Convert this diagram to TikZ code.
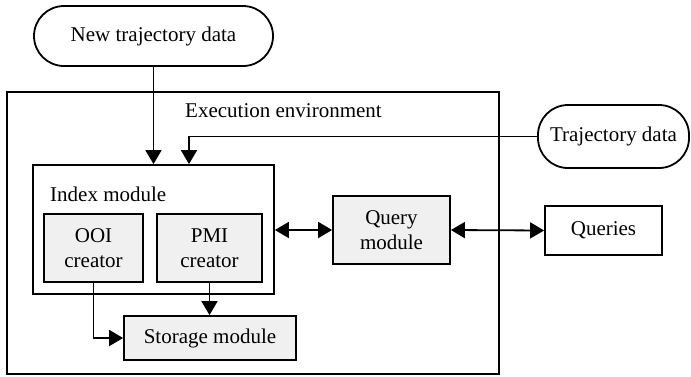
\documentclass[tikz,border=0pt]{standalone}
\usepackage{fontspec}
\setmainfont{Liberation Serif}
\usetikzlibrary{arrows.meta}
\begin{document}
\begin{tikzpicture}[x=1pt,y=-1pt,
  every node/.style={font=\fontsize{21}{24.5}\selectfont},
  box/.style={draw, line width=1.8pt, inner sep=0pt, align=center},
  gbox/.style={box, fill=black!6},
  term/.style={box, rounded corners=30pt},
  conn/.style={line width=1.8pt, -{Triangle[length=14pt,width=16pt]}},
  biconn/.style={line width=1.8pt, {Triangle[length=14pt,width=16pt]}-{Triangle[length=14pt,width=16pt]}}
]
\useasboundingbox (0,0) rectangle (691,376);
\node[box, minimum width=492pt, minimum height=282pt] (env) at (253,233) {};
\node[anchor=west, inner sep=0pt] (envlabel) at (185,111) {Execution environment};
\node[term, minimum width=239pt, minimum height=60pt] (newdata) at (153.5,36) {New trajectory data};
\node[term, minimum width=151pt, minimum height=63pt] (trajdata) at (613.5,136.5) {Trajectory data};
\node[box, minimum width=241pt, minimum height=129pt] (index) at (153.5,229.5) {};
\node[anchor=west, inner sep=0pt] (indexlabel) at (50,194) {Index module};
\node[gbox, minimum width=99pt, minimum height=68pt] (ooi) at (93.5,248) {OOI\\creator};
\node[gbox, minimum width=105pt, minimum height=68pt] (pmi) at (209.5,248) {PMI\\creator};
\node[gbox, minimum width=172pt, minimum height=44pt] (storage) at (210,338) {Storage module};
\node[gbox, minimum width=117pt, minimum height=68pt] (query) at (391.5,230) {Query\\module};
\node[box, minimum width=117pt, minimum height=49pt] (queries) at (603.5,230.5) {Queries};
\coordinate (tin) at ([xshift=35.5pt]index.north);
\draw[conn] (newdata) -- (index);
\draw[conn] (trajdata.west) -| (tin);
\draw[biconn] (query.west -| index.east) -- (query.west);
\draw[biconn] (query.east) -- (queries.west);
\draw[conn] (ooi.south) |- (storage.west);
\draw[conn] (pmi.south) -- (storage.north -| pmi.south);
\end{tikzpicture}
\end{document}
